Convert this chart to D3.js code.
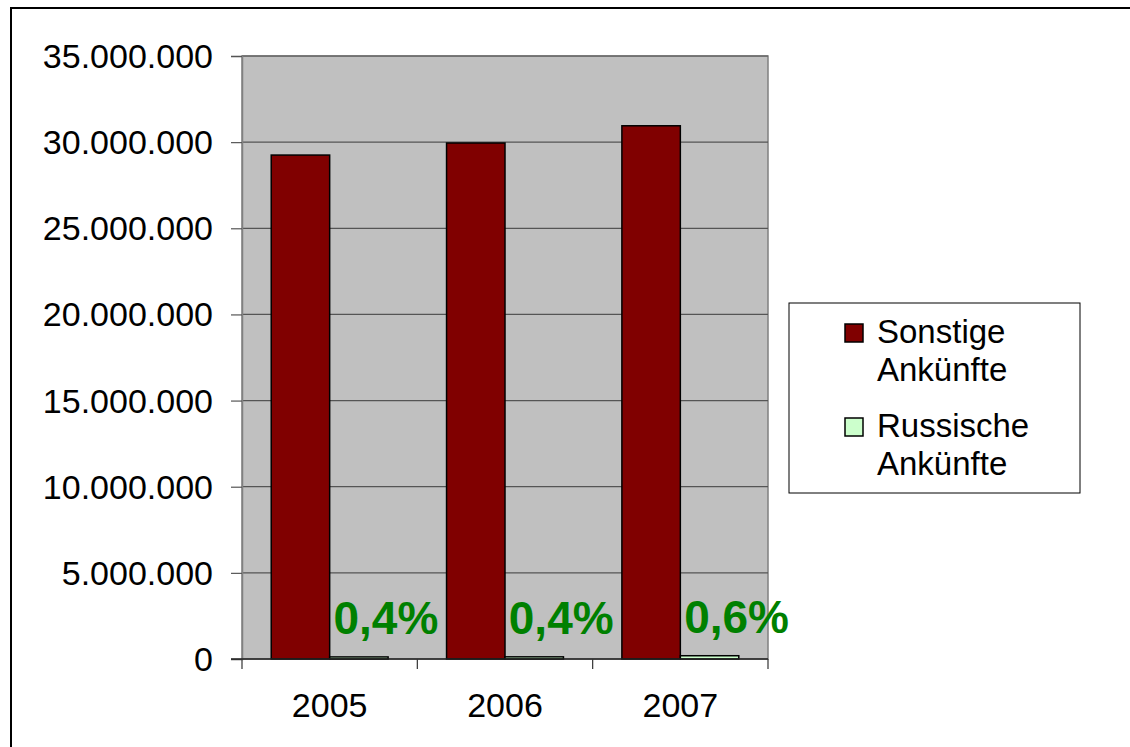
<!DOCTYPE html>
<html>
<head>
<meta charset="utf-8">
<script src="https://cdn.jsdelivr.net/npm/d3@7"></script>
<style>
  body { margin: 0; background: #fff; }
  svg text { font-family: "Liberation Sans", Arial, sans-serif; }
</style>
</head>
<body>
<svg id="chart" width="1130" height="747"></svg>
<script>
// data
const years = ['2005', '2006', '2007'];
const seriesNames = ['Sonstige Ankünfte', 'Russische Ankünfte'];
const sonstige = [29250000, 29950000, 30950000];
const russische = [120000, 125000, 190000];
const yTicks = [0, 5000000, 10000000, 15000000, 20000000, 25000000, 30000000, 35000000];

const colors = ['#800000', '#CCFFCC'];

const de = d3.formatLocale({decimal: ',', thousands: '.', grouping: [3], currency: ['', ' €']});
const fmtNum = de.format(',.0f');
const fmtPct = de.format('.1%');

const svg = d3.select('#chart');

// outer chart border (runs off the picture on right and bottom)
svg.append('rect')
   .attr('x', 11).attr('y', 8)
   .attr('width', 1300).attr('height', 900)
   .attr('fill', 'none')
   .attr('stroke', '#000')
   .attr('stroke-width', 2);

const plot = {left: 242, right: 768, top: 56, bottom: 659};

const x0 = d3.scaleBand()
             .domain(years)
             .range([plot.left, plot.right])
             .paddingInner(0).paddingOuter(0);
const x1 = d3.scaleBand()
             .domain(seriesNames)
             .range([0, x0.bandwidth()])
             .paddingInner(0).paddingOuter(0.5);
const y = d3.scaleLinear()
            .domain([0, 35000000])
            .range([plot.bottom, plot.top]);

// plot area
svg.append('rect')
   .attr('x', plot.left).attr('y', plot.top)
   .attr('width', plot.right - plot.left)
   .attr('height', plot.bottom - plot.top)
   .attr('fill', '#C0C0C0')
   .attr('stroke', '#808080')
   .attr('stroke-width', 1.5);

// gridlines
svg.append('g')
   .selectAll('line')
   .data(yTicks.filter(d => d > 0))
   .join('line')
   .attr('x1', plot.left).attr('x2', plot.right)
   .attr('y1', d => y(d)).attr('y2', d => y(d))
   .attr('stroke', '#555')
   .attr('stroke-width', 1.2);

// y axis
const yAxis = svg.append('g')
   .attr('transform', `translate(${plot.left},0)`)
   .call(d3.axisLeft(y).tickValues(yTicks).tickFormat(fmtNum).tickSize(11).tickPadding(18));
yAxis.select('.domain').attr('stroke', '#808080').attr('stroke-width', 1.5);
yAxis.selectAll('.tick line').attr('stroke', '#555').attr('stroke-width', 1.2);
yAxis.selectAll('.tick text')
     .attr('font-size', 34)
     .attr('fill', '#000')
     .attr('font-family', '"Liberation Sans", Arial, sans-serif')
     .attr('dy', '0.34em');

// bars
const rows = years.map((yr, i) => ({year: yr, values: [sonstige[i], russische[i]]}));
const groups = svg.append('g')
   .selectAll('g')
   .data(rows)
   .join('g')
   .attr('transform', d => `translate(${x0(d.year)},0)`);

groups.selectAll('rect')
   .data(d => d.values.map((v, k) => ({name: seriesNames[k], value: v, k: k})))
   .join('rect')
   .attr('x', d => x1(d.name))
   .attr('width', x1.bandwidth())
   .attr('y', d => y(d.value))
   .attr('height', d => y(0) - y(d.value))
   .attr('fill', d => colors[d.k])
   .attr('stroke', '#000')
   .attr('stroke-width', 1.5);

// x axis baseline and category ticks
svg.append('line')
   .attr('x1', plot.left - 11).attr('x2', plot.right)
   .attr('y1', y(0)).attr('y2', y(0))
   .attr('stroke', '#222')
   .attr('stroke-width', 1.5);

const bounds = years.map(d => x0(d)).concat([plot.right]);
svg.append('g')
   .selectAll('line')
   .data(bounds)
   .join('line')
   .attr('x1', d => d).attr('x2', d => d)
   .attr('y1', y(0)).attr('y2', y(0) + 10)
   .attr('stroke', '#333')
   .attr('stroke-width', 1.2);

svg.append('g')
   .selectAll('text')
   .data(years)
   .join('text')
   .attr('x', d => x0(d) + x0.bandwidth() / 2)
   .attr('y', 717)
   .attr('text-anchor', 'middle')
   .attr('font-size', 34)
   .attr('fill', '#000')
   .text(d => d);

// share labels for the russian arrivals
svg.append('g')
   .selectAll('text')
   .data(rows)
   .join('text')
   .attr('x', d => x0(d.year) + x1(seriesNames[1]) + x1.bandwidth() / 2 + 27)
   .attr('y', d => y(d.values[1]) - 23)
   .attr('text-anchor', 'middle')
   .attr('font-size', 46)
   .attr('font-weight', 'bold')
   .attr('fill', '#008000')
   .text(d => fmtPct(d.values[1] / (d.values[0] + d.values[1])));

// legend
const legend = svg.append('g');
legend.append('rect')
      .attr('x', 789).attr('y', 303)
      .attr('width', 291).attr('height', 190)
      .attr('fill', '#fff')
      .attr('stroke', '#000')
      .attr('stroke-width', 1);

const items = legend.selectAll('g')
      .data(seriesNames)
      .join('g')
      .attr('transform', (d, i) => `translate(0,${i * 94})`);

items.append('rect')
     .attr('x', 845).attr('y', 324)
     .attr('width', 18).attr('height', 18)
     .attr('fill', (d, i) => colors[i])
     .attr('stroke', '#000')
     .attr('stroke-width', 1.5);

items.append('text')
     .attr('x', 877)
     .attr('y', 343)
     .attr('font-size', 33)
     .attr('fill', '#000')
     .selectAll('tspan')
     .data(d => d.split(' '))
     .join('tspan')
     .attr('x', 877)
     .attr('dy', (d, i) => i === 0 ? 0 : 38)
     .text(d => d);
</script>
</body>
</html>
